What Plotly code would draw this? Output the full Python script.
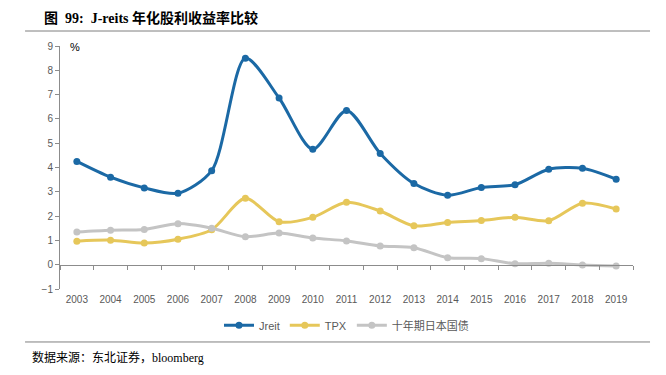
import plotly.graph_objects as go

years = [str(y) for y in range(2003, 2020)]
jreit = [4.25, 3.6, 3.16, 2.94, 3.87, 8.5, 6.86, 4.75, 6.35, 4.58, 3.34, 2.86, 3.18, 3.29, 3.93, 3.97, 3.52]
tpx = [0.97, 1.01, 0.89, 1.05, 1.44, 2.73, 1.77, 1.95, 2.57, 2.21, 1.60, 1.74, 1.82, 1.95, 1.81, 2.53, 2.29]
jgb = [1.35, 1.42, 1.45, 1.69, 1.50, 1.15, 1.30, 1.10, 0.98, 0.77, 0.70, 0.29, 0.25, 0.04, 0.06, -0.01, -0.05]
y_ticks = list(range(-1, 10))

series = [("Jreit", jreit, "#1b69a5"), ("TPX", tpx, "#e6c75a"), ("十年期日本国债", jgb, "#c4c4c4")]

fig = go.Figure()
for name, vals, col in series:
    fig.add_trace(go.Scatter(
        x=years, y=vals, name=name, mode="lines+markers",
        line=dict(color=col, width=3, shape="spline", smoothing=0.8),
        marker=dict(color=col, size=7),
    ))

tick_font = dict(family="Liberation Sans, Arial, sans-serif", size=10, color="#595959")
n = len(years)

fig.update_layout(
    width=666, height=375,
    margin=dict(l=52, r=41, t=38, b=94, autoexpand=False),
    paper_bgcolor="white", plot_bgcolor="white",
    showlegend=True,
    legend=dict(orientation="h", x=0.5, xanchor="center", y=-0.09, yanchor="top",
                font=dict(family="Liberation Sans, Arial, Noto Sans CJK SC, sans-serif", size=11, color="#595959"),
                tracegroupgap=0),
    xaxis=dict(type="category", range=[-0.5, n - 0.5], showline=False, ticks="", showgrid=False,
               zeroline=False, tickfont=tick_font, automargin=False, ticklabelstandoff=3),
    xaxis2=dict(type="category", matches="x", overlaying="x", anchor="free", position=0.1,
                showline=True, linecolor="#8c8c8c", linewidth=1, ticks="outside", ticklen=4,
                tickcolor="#8c8c8c", tickson="boundaries", showticklabels=False, showgrid=False,
                automargin=False),
    yaxis=dict(range=[-1, 9], tickvals=y_ticks, showgrid=False, zeroline=False,
               showline=True, linecolor="#8c8c8c", linewidth=1, ticks="outside", ticklen=4,
               tickcolor="#8c8c8c", tickfont=tick_font, automargin=False),
)
# invisible trace to activate the zero-line category axis
fig.add_trace(go.Scatter(x=years, y=[None]*len(years), xaxis="x2", showlegend=False, hoverinfo="skip"))

fig.add_annotation(text="%", xref="paper", yref="paper", x=0.014, y=0.995, xanchor="left", yanchor="middle",
                   showarrow=False, font=dict(family="Liberation Sans, Arial, sans-serif", size=11, color="#000000"))
fig.add_annotation(text="<b>图  99:  J-reits 年化股利收益率比较</b>", xref="paper", yref="paper",
                   x=-0.031, y=1.117, xanchor="left", yanchor="middle", showarrow=False,
                   font=dict(family="Liberation Serif, Noto Sans CJK SC, serif", size=14, color="#000000"))
fig.add_annotation(text="数据来源：东北证券，bloomberg", xref="paper", yref="paper",
                   x=-0.052, y=-0.28, xanchor="left", yanchor="middle", showarrow=False,
                   font=dict(family="Liberation Serif, Noto Sans CJK SC, serif", size=12, color="#000000"))
for yy in (1.0617, -0.218):
    fig.add_shape(type="line", xref="paper", yref="paper", x0=-0.061, x1=1.0297, y0=yy, y1=yy,
                  line=dict(color="#7f7f7f", width=1))

fig.write_html("out.html")
